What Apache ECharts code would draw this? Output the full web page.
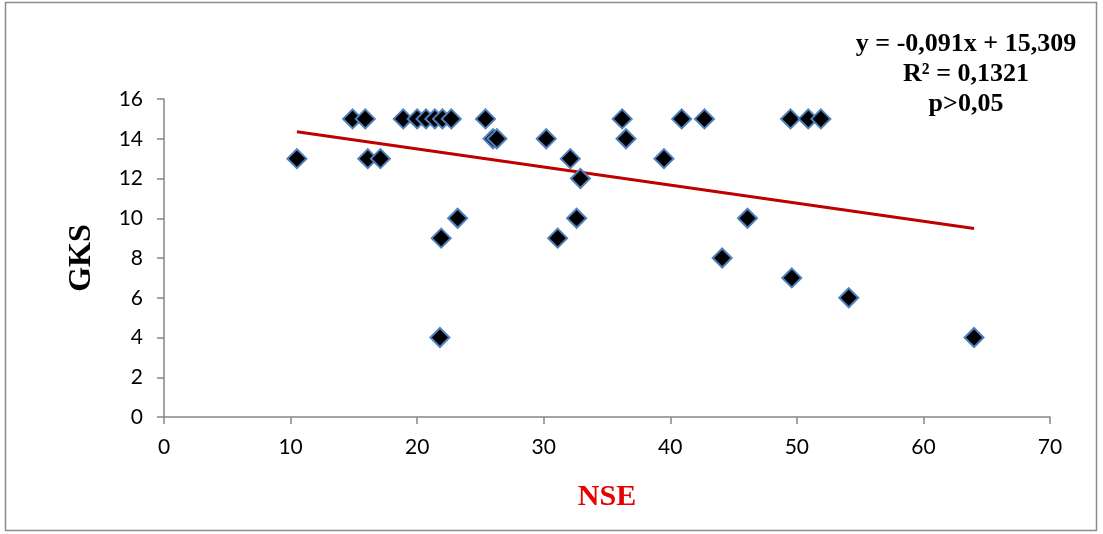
<!DOCTYPE html>
<html>
<head>
<meta charset="utf-8">
<script src="https://cdn.jsdelivr.net/npm/echarts@6/dist/echarts.min.js"></script>
<style>
  html, body { margin: 0; padding: 0; background: #fff; }
  #chart { width: 1103px; height: 534px; }
</style>
</head>
<body>
<div id="chart"></div>
<script>
// NSE (x) and GKS (y) values
const nseVals = [10.5, 14.9, 15.9, 16.1, 17.1, 18.9, 20.0, 20.7, 21.4, 22.0, 22.7,
  21.8, 21.9, 23.2, 25.4, 26.0, 26.3, 30.2, 31.1, 32.1, 32.6, 32.9,
  36.2, 36.5, 39.5, 40.9, 42.7, 44.1, 46.1, 49.5, 49.6, 50.9, 51.9, 54.1, 64.0];
const gksVals = [13, 15, 15, 13, 13, 15, 15, 15, 15, 15, 15,
  4, 9, 10, 15, 14, 14, 14, 9, 13, 10, 12,
  15, 14, 13, 15, 15, 8, 10, 15, 7, 15, 15, 6, 4];

// trend line from the equation shown on the chart
const slope = -0.091;
const intercept = 15.309;
const trendX = [10.5, 64.0];

const xTicks = { min: 0, max: 70, interval: 10 };
const yTicks = { min: 0, max: 16, interval: 2 };

const statLines = ['y = -0,091x + 15,309', 'R² = 0,1321', 'p>0,05'];

const points = nseVals.map((x, i) => [x, gksVals[i]]);
const trend = trendX.map(x => [x, intercept + slope * x]);

const chart = echarts.init(document.getElementById('chart'));

const axisGray = '#868686';
const serif = '"Liberation Serif", "Times New Roman", serif';

// stats box, one centred text per line
const statText = statLines.map((t, i) => ({
  type: 'text',
  x: 966,
  y: 44 + i * 30,
  style: {
    text: t,
    fill: '#000',
    font: 'bold 26px ' + serif,
    textAlign: 'center',
    textVerticalAlign: 'middle'
  }
}));

chart.setOption({
  animation: false,
  grid: { left: 164, right: 53, top: 99, bottom: 117 },
  xAxis: {
    type: 'value',
    min: xTicks.min, max: xTicks.max, interval: xTicks.interval,
    name: 'NSE',
    nameLocation: 'middle',
    nameGap: 65,
    nameTextStyle: { color: '#e60000', fontFamily: serif, fontWeight: 'bold', fontSize: 30 },
    axisLine: { lineStyle: { color: axisGray, width: 1.5 } },
    axisTick: { show: true, length: 7, lineStyle: { color: axisGray, width: 1.5 } },
    axisLabel: { color: '#000', fontFamily: 'Lato', fontSize: 21, margin: 20 },
    splitLine: { show: false }
  },
  yAxis: {
    type: 'value',
    min: yTicks.min, max: yTicks.max, interval: yTicks.interval,
    name: 'GKS',
    nameLocation: 'middle',
    nameGap: 66,
    nameRotate: 90,
    nameTextStyle: { color: '#000', fontFamily: serif, fontWeight: 'bold', fontSize: 32 },
    axisLine: { show: true, lineStyle: { color: axisGray, width: 1.5 } },
    axisTick: { show: true, length: 7, lineStyle: { color: axisGray, width: 1.5 } },
    axisLabel: { color: '#000', fontFamily: 'Lato', fontSize: 21, margin: 21 },
    splitLine: { show: false }
  },
  graphic: [
    {
      type: 'rect',
      shape: { x: 5.5, y: 2.5, width: 1091, height: 528 },
      style: { fill: 'none', stroke: '#8c8c8c', lineWidth: 1.5 },
      z: -1
    }
  ].concat(statText),
  series: [
    {
      name: 'trend',
      type: 'line',
      data: trend,
      symbol: 'none',
      lineStyle: { color: '#c00000', width: 3 },
      z: 2
    },
    {
      name: 'GKS',
      type: 'scatter',
      data: points,
      symbol: 'diamond',
      symbolSize: [19, 19],
      itemStyle: { color: '#000', opacity: 1, borderColor: '#4f81bd', borderWidth: 2 },
      z: 3
    }
  ]
});
</script>
</body>
</html>
